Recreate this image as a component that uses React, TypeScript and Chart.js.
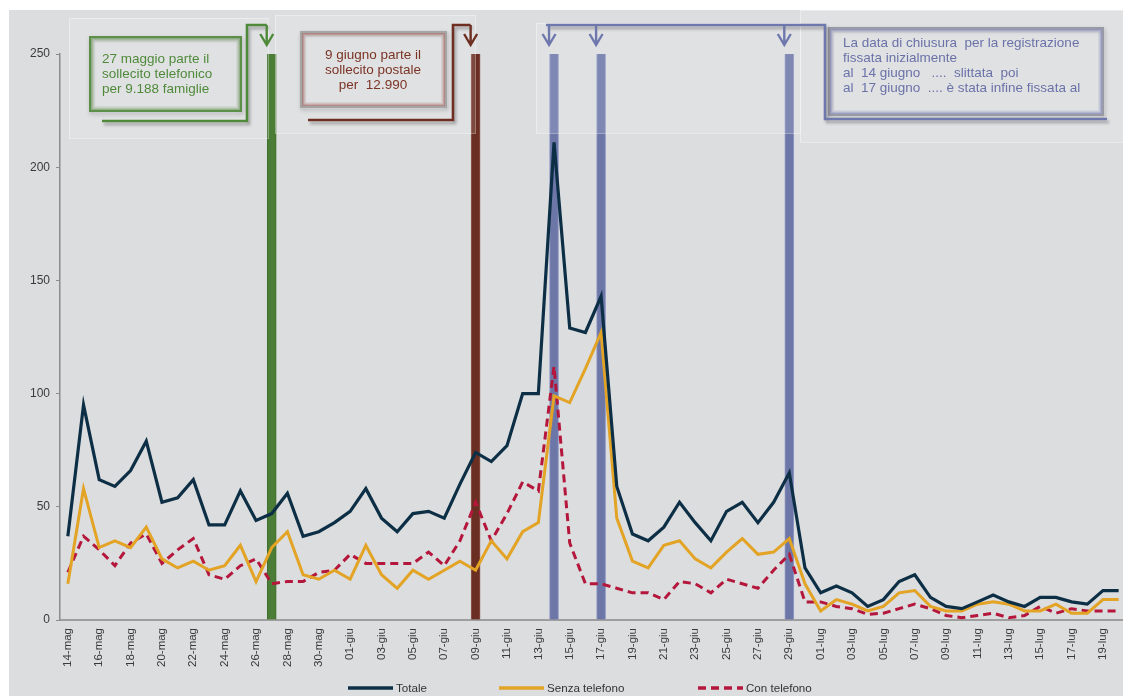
import React, { useEffect, useRef } from 'react';
import { Chart, registerables } from 'chart.js';

Chart.register(...registerables);

const FONT = '"Liberation Sans", Arial, Helvetica, sans-serif';

const categories = [
  '14-mag', '15-mag', '16-mag', '17-mag', '18-mag', '19-mag', '20-mag', '21-mag', '22-mag', '23-mag',
  '24-mag', '25-mag', '26-mag', '27-mag', '28-mag', '29-mag', '30-mag', '31-mag',
  '01-giu', '02-giu', '03-giu', '04-giu', '05-giu', '06-giu', '07-giu', '08-giu', '09-giu', '10-giu',
  '11-giu', '12-giu', '13-giu', '14-giu', '15-giu', '16-giu', '17-giu', '18-giu', '19-giu', '20-giu',
  '21-giu', '22-giu', '23-giu', '24-giu', '25-giu', '26-giu', '27-giu', '28-giu', '29-giu', '30-giu',
  '01-lug', '02-lug', '03-lug', '04-lug', '05-lug', '06-lug', '07-lug', '08-lug', '09-lug', '10-lug',
  '11-lug', '12-lug', '13-lug', '14-lug', '15-lug', '16-lug', '17-lug', '18-lug', '19-lug', '20-lug',
];

const totale = [
  37, 95, 62, 59, 66, 79, 52, 54, 62, 42, 42, 57, 44, 47, 56, 37, 39, 43,
  48, 58, 45, 39, 47, 48, 45, 60, 74, 70, 77, 100, 100, 211, 129, 127, 143, 59, 38, 35,
  41, 52, 43, 35, 48, 52, 43, 52, 65, 23,
  12, 15, 12, 6, 9, 17, 20, 10, 6, 5, 8, 11, 8, 6, 10, 10, 8, 7, 13, 13,
];

const senzaTelefono = [
  16, 58, 32, 35, 32, 41, 27, 23, 26, 22, 24, 33, 17, 32, 39, 20, 18, 22,
  18, 33, 20, 14, 22, 18, 22, 26, 22, 35, 27, 39, 43, 99, 96, 111, 127, 45, 26, 23,
  33, 35, 27, 23, 30, 36, 29, 30, 36, 16,
  4, 9, 7, 4, 6, 12, 13, 6, 4, 4, 7, 8, 7, 4, 4, 7, 3, 3, 9, 9,
];

const conTelefono = [
  21, 37, 31, 24, 34, 38, 25, 31, 36, 20, 18, 24, 27, 16, 17, 17, 21, 22,
  29, 25, 25, 25, 25, 30, 24, 35, 52, 35, 47, 61, 57, 112, 34, 16, 16, 14, 12, 12,
  9, 17, 16, 12, 18, 16, 14, 22, 29, 8,
  8, 6, 5, 2.5, 3, 5, 7, 5, 2, 1, 2, 3, 1, 2, 6, 3, 5, 4, 4, 4,
];

const seriesNames = ['Totale', 'Senza telefono', 'Con telefono'];
const seriesColors = ['#0d2f46', '#e3a324', '#b4173b'];

// event markers (vertical bars) on these days
const markerDays = ['27-mag', '09-giu', '14-giu', '17-giu', '29-giu'];
const markerValue = 250;
const markerColors = ['#4b7d36', '#6b2e22', '#6c77a8', '#6c77a8', '#6c77a8'];
const markerEdgeColors = ['#3f6e2c', '#8d5a4e', '#8f98c6', '#8f98c6', '#8f98c6'];

const yMax = 250;
const yStep = 50;

const note1 = ['27 maggio parte il', 'sollecito telefonico', 'per 9.188 famiglie'];
const note2 = ['9 giugno parte il', 'sollecito postale', 'per  12.990'];
const note3 = [
  'La data di chiusura  per la registrazione',
  'fissata inizialmente',
  'al  14 giugno   ....  slittata  poi',
  'al  17 giugno  .... è stata infine fissata al',
];

const markerIdx = markerDays.map((d) => categories.indexOf(d));
const markerBars = categories.map((_, i) => (markerIdx.includes(i) ? markerValue : null));
const markerBarColors = categories.map((_, i) => {
  const k = markerIdx.indexOf(i);
  return k >= 0 ? markerColors[k] : 'rgba(0,0,0,0)';
});
const markerBarEdges = categories.map((_, i) => {
  const k = markerIdx.indexOf(i);
  return k >= 0 ? markerEdgeColors[k] : 'rgba(0,0,0,0)';
});

function drawBox(ctx: CanvasRenderingContext2D, x: number, y: number, w: number, h: number, outer: string, glow: string) {
  ctx.save();
  ctx.shadowColor = 'rgba(0,0,0,0.28)';
  ctx.shadowBlur = 4;
  ctx.shadowOffsetX = 1;
  ctx.shadowOffsetY = 2;
  ctx.strokeStyle = outer;
  ctx.lineWidth = 2;
  ctx.strokeRect(x, y, w, h);
  ctx.restore();
  ctx.save();
  const alphas = [0.55, 0.35, 0.2, 0.1];
  alphas.forEach((a, k) => {
    ctx.strokeStyle = glow.replace('A', String(a));
    ctx.lineWidth = 1;
    const d = k + 1.5;
    ctx.strokeRect(x + d, y + d, w - 2 * d, h - 2 * d);
  });
  ctx.restore();
}

function drawPath(ctx: CanvasRenderingContext2D, pts: number[][], color: string) {
  ctx.save();
  ctx.shadowColor = 'rgba(0,0,0,0.3)';
  ctx.shadowBlur = 3;
  ctx.shadowOffsetX = 2;
  ctx.shadowOffsetY = 3;
  ctx.strokeStyle = color;
  ctx.lineWidth = 2.6;
  ctx.lineJoin = 'miter';
  ctx.beginPath();
  pts.forEach(([px, py], i) => (i === 0 ? ctx.moveTo(px, py) : ctx.lineTo(px, py)));
  ctx.stroke();
  ctx.restore();
}

function drawArrow(ctx: CanvasRenderingContext2D, x: number, y0: number, y1: number, color: string) {
  ctx.save();
  ctx.strokeStyle = color;
  ctx.lineWidth = 2.4;
  ctx.beginPath();
  ctx.moveTo(x, y0);
  ctx.lineTo(x, y1);
  ctx.moveTo(x - 6.5, y1 - 11);
  ctx.lineTo(x, y1);
  ctx.lineTo(x + 6.5, y1 - 11);
  ctx.stroke();
  ctx.restore();
}

const annotationPlugin = {
  id: 'notes',
  afterDatasetsDraw(chart: any) {
    const ctx: CanvasRenderingContext2D = chart.ctx;
    const xs = chart.scales.x;
    const ax = (i: number) => xs.getPixelForValue(i) - 5;
    ctx.save();
    // faint panels
    const panels = [
      [60, 8, 199, 120],
      [266, 5, 200, 118],
      [527, 13, 264, 110],
      [791, 0, 331, 132],
    ];
    panels.forEach(([x, y, w, h]) => {
      ctx.fillStyle = 'rgba(255,255,255,0.13)';
      ctx.fillRect(x, y, w, h);
      ctx.strokeStyle = 'rgba(255,255,255,0.35)';
      ctx.lineWidth = 1;
      ctx.strokeRect(x + 0.5, y + 0.5, w, h);
    });

    const green = '#4f8a3a';
    const brown = '#6e2f22';
    const blue = '#6e78ad';

    // boxes
    drawBox(ctx, 81, 27, 151, 74, '#5c8f48', 'rgba(92,143,72,A)');
    drawBox(ctx, 292, 22, 145, 75, '#a5a5a5', 'rgba(150,70,60,A)');
    drawBox(ctx, 820, 18, 274, 87, '#9a9aa6', 'rgba(100,110,175,A)');

    // brackets
    const g = ax(markerIdx[0]);
    drawPath(ctx, [[93, 111], [238, 111], [238, 15], [g, 15]], green);
    drawArrow(ctx, g, 15, 35, green);

    const b = ax(markerIdx[1]);
    drawPath(ctx, [[299, 110], [444, 110], [444, 15], [b, 15]], brown);
    drawArrow(ctx, b, 15, 35, brown);

    const b1 = ax(markerIdx[2]);
    drawPath(ctx, [[b1 - 3, 15], [816, 15], [816, 109], [1098, 109]], blue);
    [2, 3, 4].forEach((k) => drawArrow(ctx, ax(markerIdx[k]), 15, 35, blue));

    // texts
    ctx.font = '13.5px ' + FONT;
    ctx.textBaseline = 'middle';
    ctx.fillStyle = green;
    ctx.textAlign = 'left';
    note1.forEach((t, i) => ctx.fillText(t, 93, 49 + i * 15));
    ctx.fillStyle = '#7a3324';
    ctx.textAlign = 'center';
    note2.forEach((t, i) => ctx.fillText(t, 364, 45 + i * 15.3));
    ctx.fillStyle = '#6a72a8';
    ctx.textAlign = 'left';
    note3.forEach((t, i) => ctx.fillText(t, 834, 33 + i * 15));
    ctx.restore();
  },
};

function LegendItem({ left, color, dash, label }: { left: number; color: string; dash?: string; label: string }) {
  return (
    <>
      <svg width={45} height={6} style={{ position: 'absolute', left, top: 675 }}>
        <line x1={0} y1={3} x2={45} y2={3} stroke={color} strokeWidth={3.5} strokeDasharray={dash} />
      </svg>
      <span
        style={{
          position: 'absolute',
          left: left + 48,
          top: 670,
          fontFamily: FONT,
          fontSize: 11.6,
          lineHeight: '16px',
          color: '#333',
          whiteSpace: 'nowrap',
        }}
      >
        {label}
      </span>
    </>
  );
}

export default function App() {
  const ref = useRef<HTMLCanvasElement | null>(null);

  useEffect(() => {
    if (!ref.current) return;
    const chart = new Chart(ref.current, {
      type: 'line',
      data: {
        labels: categories,
        datasets: [
          {
            type: 'line',
            label: seriesNames[0],
            data: totale,
            borderColor: seriesColors[0],
            backgroundColor: seriesColors[0],
            borderWidth: 3.2,
            pointRadius: 0,
            tension: 0,
            order: 1,
          },
          {
            type: 'line',
            label: seriesNames[1],
            data: senzaTelefono,
            borderColor: seriesColors[1],
            backgroundColor: seriesColors[1],
            borderWidth: 3,
            pointRadius: 0,
            tension: 0,
            order: 2,
          },
          {
            type: 'line',
            label: seriesNames[2],
            data: conTelefono,
            borderColor: seriesColors[2],
            backgroundColor: seriesColors[2],
            borderWidth: 3,
            borderDash: [8, 5],
            pointRadius: 0,
            tension: 0,
            order: 3,
          },
          {
            type: 'bar',
            label: 'eventi',
            data: markerBars as any,
            backgroundColor: markerBarColors,
            borderColor: markerBarEdges,
            borderWidth: { left: 1, right: 1, top: 0, bottom: 0 },
            borderSkipped: false,
            barThickness: 9,
            order: 10,
          } as any,
        ],
      },
      options: {
        responsive: false,
        animation: false,
        devicePixelRatio: 1,
        layout: { padding: { left: 0, right: 4.5, top: 44, bottom: 0 } },
        plugins: {
          legend: { display: false },
          tooltip: { enabled: false },
        },
        scales: {
          x: {
            type: 'category',
            offset: true,
            afterFit: (s: any) => {
              s.height = 76;
              s.paddingLeft = 0;
              s.paddingRight = 0;
            },
            grid: { display: false, drawTicks: false },
            border: { display: true, color: '#9e9e9e', width: 2 },
            ticks: {
              autoSkip: false,
              maxRotation: 90,
              minRotation: 90,
              padding: 8,
              color: '#3a3a3a',
              font: { family: FONT, size: 11.5 },
              callback: (_v: any, i: number) => (i % 2 === 0 ? categories[i] : ''),
            },
          },
          y: {
            min: 0,
            max: yMax,
            afterFit: (s: any) => {
              s.width = 51;
            },
            grid: { display: true, drawOnChartArea: false, drawTicks: true, tickLength: 4, color: '#8c8c8c' },
            border: { display: true, color: '#8c8c8c', width: 1.5 },
            ticks: {
              stepSize: yStep,
              padding: 6,
              color: '#3a3a3a',
              font: { family: FONT, size: 12 },
            },
          },
        },
      },
      plugins: [annotationPlugin],
    });
    return () => chart.destroy();
  }, []);

  return (
    <div
      style={{
        position: 'relative',
        width: 1122,
        height: 686,
        margin: '2px 0 0 1px',
        background: '#dcdddf',
      }}
    >
      <canvas ref={ref} width={1122} height={686} style={{ display: 'block' }} />
      <LegendItem left={339} color={seriesColors[0]} label={seriesNames[0]} />
      <LegendItem left={490} color={seriesColors[1]} label={seriesNames[1]} />
      <LegendItem left={689} color={seriesColors[2]} dash="8 5" label={seriesNames[2]} />
    </div>
  );
}
